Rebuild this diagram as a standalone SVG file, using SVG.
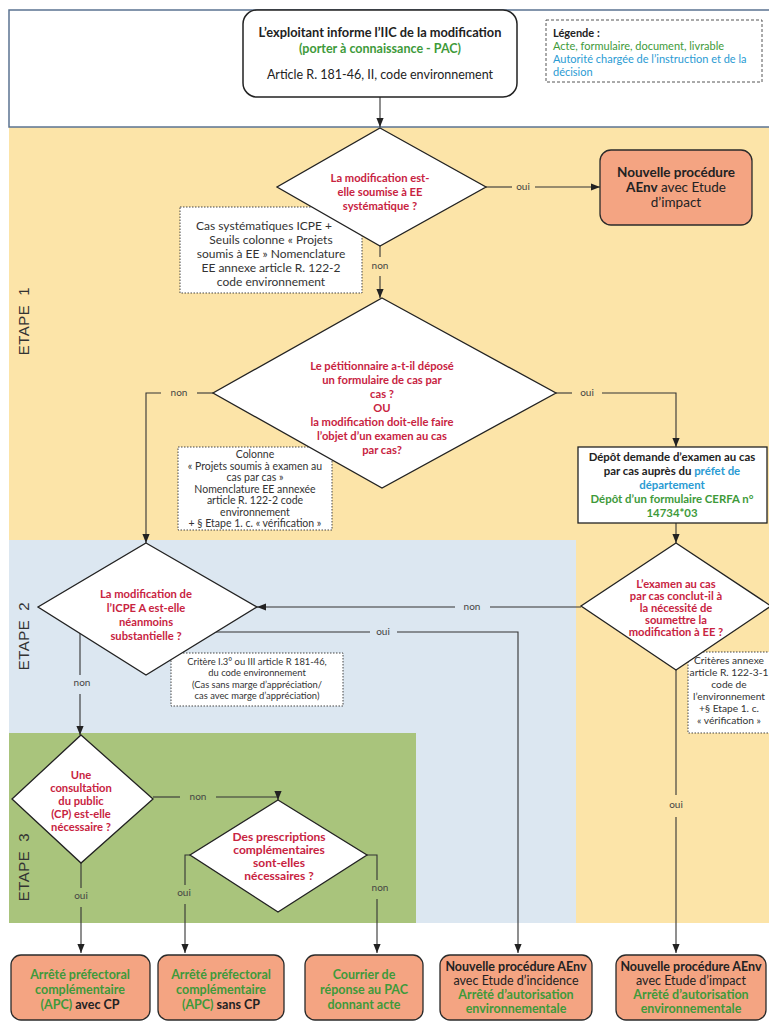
<svg xmlns="http://www.w3.org/2000/svg" width="769" height="1024" viewBox="0 0 769 1024">
<defs>
<marker id="ah" viewBox="0 0 10 10" refX="10" refY="5" markerWidth="9" markerHeight="9" markerUnits="userSpaceOnUse" orient="auto"><path d="M0,1L10,5L0,9z" fill="#222"/></marker>
<style>
text{font-family:Lato,"Open Sans","Liberation Sans",sans-serif}
.t{font-size:12.5px;fill:#222;text-anchor:middle}
.n{font-size:10.5px;fill:#333;text-anchor:middle}
.q{font-size:11.2px;font-weight:700;fill:#C8233F;text-anchor:middle}
.lbl{font-size:10px;fill:#444;text-anchor:middle}
.lg{font-size:11px;fill:#222}
.b{font-weight:700}
.g{fill:#3E9A3A}
.bl{fill:#2A9BD3}
.k{fill:#222}
.dia{fill:#fff;stroke:#222;stroke-width:1.3}
.note{fill:#fff;stroke:#444;stroke-width:1;stroke-dasharray:1.5 1.5}
.res{fill:#F4A482;stroke:#2a2a2a;stroke-width:1.3}
.con{fill:none;stroke:#333;stroke-width:1.1}
.etape{font-family:"Liberation Sans",Arial,sans-serif;font-size:15px;fill:#333;letter-spacing:0.5px;text-anchor:middle}
</style>
</defs>
<rect width="769" height="1024" fill="#fff"/>
<g id="panels">
<rect x="9" y="127" width="760" height="796" fill="#FCE4A8"/>
<rect x="9" y="540" width="567" height="383" fill="#DCE7F1"/>
<rect x="9" y="733" width="407" height="190" fill="#A9C47C"/>
<rect x="9" y="10" width="765" height="117" fill="#fff" stroke="#5B7391" stroke-width="1.5"/>
<text class="etape" transform="translate(29,321) rotate(-90)">ETAPE<tspan dx="9">1</tspan></text>
<text class="etape" transform="translate(29,636) rotate(-90)">ETAPE<tspan dx="9">2</tspan></text>
<text class="etape" transform="translate(29,867) rotate(-90)">ETAPE<tspan dx="9">3</tspan></text>
</g>
<g id="connectors">
<path class="con" d="M380,97V127" marker-end="url(#ah)"/>
<path class="con" d="M486,187H512"/><text class="lbl" x="523" y="190">oui</text><path class="con" d="M535,187H600" marker-end="url(#ah)"/>
<path class="con" d="M380,246V257"/><text class="lbl" x="380" y="269">non</text><path class="con" d="M380,276V298" marker-end="url(#ah)"/>
<path class="con" d="M213,393H197"/><text class="lbl" x="179" y="396">non</text><path class="con" d="M161,393H146V543" marker-end="url(#ah)"/>
<path class="con" d="M556,393H572"/><text class="lbl" x="587" y="396">oui</text><path class="con" d="M602,393H676V447" marker-end="url(#ah)"/>
<path class="con" d="M676,523V543" marker-end="url(#ah)"/>
<path class="con" d="M581,607H490"/><text class="lbl" x="472" y="610">non</text><path class="con" d="M455,607H257" marker-end="url(#ah)"/>
<path class="con" d="M214,632H370"/><text class="lbl" x="383" y="635">oui</text><path class="con" d="M397,632H518V953" marker-end="url(#ah)"/>
<path class="con" d="M80,632V675"/><text class="lbl" x="82" y="686">non</text><path class="con" d="M80,694V735" marker-end="url(#ah)"/>
<path class="con" d="M676,670V795"/><text class="lbl" x="676" y="808">oui</text><path class="con" d="M676,817V953" marker-end="url(#ah)"/>
<path class="con" d="M153,797H180"/><text class="lbl" x="198" y="800">non</text><path class="con" d="M216,797H278V800" marker-end="url(#ah)"/>
<path class="con" d="M81,863V888"/><text class="lbl" x="81" y="899">oui</text><path class="con" d="M81,907V953" marker-end="url(#ah)"/>
<path class="con" d="M190,855H185V885"/><text class="lbl" x="184" y="896">oui</text><path class="con" d="M185,904V953" marker-end="url(#ah)"/>
<path class="con" d="M367,855H377V880"/><text class="lbl" x="380" y="891">non</text><path class="con" d="M377,899V953" marker-end="url(#ah)"/>
</g>
<g id="start">
<rect x="243" y="10" width="274" height="87" rx="14" fill="#fff" stroke="#222" stroke-width="1.5"/>
<text class="t b" style="font-size:12.8px" x="380" y="37">L’exploitant informe l’IIC de la modification</text>
<text class="t b g" x="380" y="53">(porter à connaissance - PAC)</text>
<text class="t" x="380" y="79">Article R. 181-46, II, code environnement</text>
</g>
<g id="legend">
<rect x="546" y="20" width="216" height="62" fill="#fff" stroke="#555" stroke-width="1" stroke-dasharray="3 2"/>
<text class="lg b" x="553" y="37">Légende :</text>
<text class="lg g" x="553" y="50">Acte, formulaire, document, livrable</text>
<text class="lg bl" x="553" y="63">Autorité chargée de l’instruction et de la</text>
<text class="lg bl" x="553" y="76">décision</text>
</g>
<g id="note1" style="font-size:12px">
<rect class="note" x="180" y="207" width="182" height="86"/>
<text class="n" style="font-size:12px" x="264" y="230">Cas systématiques ICPE +</text>
<text class="n" style="font-size:12px" x="271" y="244">Seuils colonne « Projets</text>
<text class="n" style="font-size:12px" x="271" y="258">soumis à EE » Nomenclature</text>
<text class="n" style="font-size:12px" x="271" y="272">EE annexe article R. 122-2</text>
<text class="n" style="font-size:12px" x="271" y="286">code environnement</text>
</g>
<g id="note2">
<rect class="note" x="178" y="447" width="154" height="83"/>
<text class="n" x="255" y="458">Colonne</text>
<text class="n" x="255" y="469.5">« Projets soumis à examen au</text>
<text class="n" x="255" y="481">cas par cas »</text>
<text class="n" x="255" y="492.5">Nomenclature EE annexée</text>
<text class="n" x="255" y="504">article R. 122-2 code</text>
<text class="n" x="255" y="515.5">environnement</text>
<text class="n" x="255" y="527">+ § Etape 1. c. « vérification »</text>
</g>
<g id="note3">
<rect class="note" x="171" y="653" width="172" height="53"/>
<text class="n" style="font-size:9.4px" x="257" y="665">Critère I.3° ou III article R 181-46,</text>
<text class="n" style="font-size:9.4px" x="257" y="676">du code environnement</text>
<text class="n" style="font-size:9.4px" x="257" y="688">(Cas sans marge d’appréciation/</text>
<text class="n" style="font-size:9.4px" x="257" y="699">cas avec marge d’appréciation)</text>
</g>
<g id="note4">
<rect class="note" x="688" y="652" width="85" height="81"/>
<text class="n" style="font-size:10.2px" x="729" y="664">Critères annexe</text>
<text class="n" style="font-size:10.2px" x="729" y="676">article R. 122-3-1</text>
<text class="n" style="font-size:10.2px" x="729" y="688">code de</text>
<text class="n" style="font-size:10.2px" x="729" y="700">l’environnement</text>
<text class="n" style="font-size:10.2px" x="729" y="712">+§ Etape 1. c.</text>
<text class="n" style="font-size:10.2px" x="729" y="724">« vérification »</text>
</g>
<g id="d1">
<polygon class="dia" points="380,128 486,187 380,246 277,187"/>
<text class="q" x="380" y="182">La modification est-</text>
<text class="q" x="380" y="196">elle soumise à EE</text>
<text class="q" x="380" y="210">systématique ?</text>
</g>
<g id="aenv1">
<rect class="res" x="600" y="150" width="152" height="75" rx="11"/>
<text class="t b" style="font-size:13.5px" x="676" y="177">Nouvelle procédure</text>
<text class="t" style="font-size:13.5px" x="676" y="192"><tspan class="b">AEnv</tspan> avec Etude</text>
<text class="t" style="font-size:13.5px" x="676" y="207">d’impact</text>
</g>
<g id="d2">
<polygon class="dia" points="382,298 556,393 382,488 213,393"/>
<text class="q" x="382" y="370">Le pétitionnaire a-t-il déposé</text>
<text class="q" x="382" y="384">un formulaire de cas par</text>
<text class="q" x="382" y="398">cas ?</text>
<text class="q" x="382" y="412">OU</text>
<text class="q" x="382" y="426">la modification doit-elle faire</text>
<text class="q" x="382" y="440">l’objet d’un examen au cas</text>
<text class="q" x="382" y="454">par cas?</text>
</g>
<g id="cerfa">
<rect x="578" y="447" width="189" height="76" fill="#fff" stroke="#222" stroke-width="1.3"/>
<text class="t b" style="font-size:11.4px" x="672" y="461">Dépôt demande d’examen au cas</text>
<text class="t b" style="font-size:11.4px" x="672" y="475">par cas auprès du <tspan class="bl">préfet de</tspan></text>
<text class="t b bl" style="font-size:11.4px" x="672" y="489">département</text>
<text class="t b g" style="font-size:11.4px" x="672" y="503">Dépôt d’un formulaire CERFA n°</text>
<text class="t b g" style="font-size:11.4px" x="672" y="517">14734*03</text>
</g>
<g id="d3">
<polygon class="dia" points="146,543 257,607 146,675 38,607"/>
<text class="q" x="146" y="598">La modification de</text>
<text class="q" x="146" y="612">l’ICPE A est-elle</text>
<text class="q" x="146" y="626">néanmoins</text>
<text class="q" x="146" y="640">substantielle ?</text>
</g>
<g id="d4">
<polygon class="dia" points="676,543 771,606 676,670 581,606"/>
<text class="q" x="676" y="588">L’examen au cas</text>
<text class="q" x="676" y="600">par cas conclut-il à</text>
<text class="q" x="676" y="612">la nécessité de</text>
<text class="q" x="676" y="624">soumettre la</text>
<text class="q" x="676" y="636">modification à EE ?</text>
</g>
<g id="d5">
<polygon class="dia" points="81,735 153,799 81,863 12,799"/>
<text class="q" x="81" y="779">Une</text>
<text class="q" x="81" y="792">consultation</text>
<text class="q" x="81" y="805">du public</text>
<text class="q" x="81" y="818">(CP) est-elle</text>
<text class="q" x="81" y="831">nécessaire ?</text>
</g>
<g id="d6">
<polygon class="dia" points="278,800 367,855 278,912 190,855"/>
<text class="q" style="font-size:12px" x="279" y="841">Des prescriptions</text>
<text class="q" style="font-size:12px" x="279" y="854">complémentaires</text>
<text class="q" style="font-size:12px" x="279" y="867">sont-elles</text>
<text class="q" style="font-size:12px" x="279" y="880">nécessaires ?</text>
</g>
<g id="r1">
<rect class="res" x="11" y="955" width="139" height="65" rx="10"/>
<text class="t b g" x="80" y="979">Arrêté préfectoral</text>
<text class="t b g" x="80" y="994">complémentaire</text>
<text class="t b g" x="80" y="1009">(APC) <tspan class="k">avec CP</tspan></text>
</g>
<g id="r2">
<rect class="res" x="158" y="955" width="126" height="65" rx="10"/>
<text class="t b g" x="221" y="979">Arrêté préfectoral</text>
<text class="t b g" x="221" y="994">complémentaire</text>
<text class="t b g" x="221" y="1009">(APC) <tspan class="k">sans CP</tspan></text>
</g>
<g id="r3">
<rect class="res" x="305" y="955" width="118" height="65" rx="10"/>
<text class="t b g" x="364" y="979">Courrier de</text>
<text class="t b g" x="364" y="994">réponse au PAC</text>
<text class="t b g" x="364" y="1009">donnant acte</text>
</g>
<g id="r4">
<rect class="res" x="440" y="955" width="152" height="65" rx="10"/>
<text class="t b" x="516" y="971">Nouvelle procédure AEnv</text>
<text class="t" x="516" y="985">avec Etude d’incidence</text>
<text class="t b g" x="516" y="999">Arrêté d’autorisation</text>
<text class="t b g" x="516" y="1013">environnementale</text>
</g>
<g id="r5">
<rect class="res" x="616" y="955" width="150" height="65" rx="10"/>
<text class="t b" x="691" y="971">Nouvelle procédure AEnv</text>
<text class="t" x="691" y="985">avec Etude d’impact</text>
<text class="t b g" x="691" y="999">Arrêté d’autorisation</text>
<text class="t b g" x="691" y="1013">environnementale</text>
</g>
</svg>
